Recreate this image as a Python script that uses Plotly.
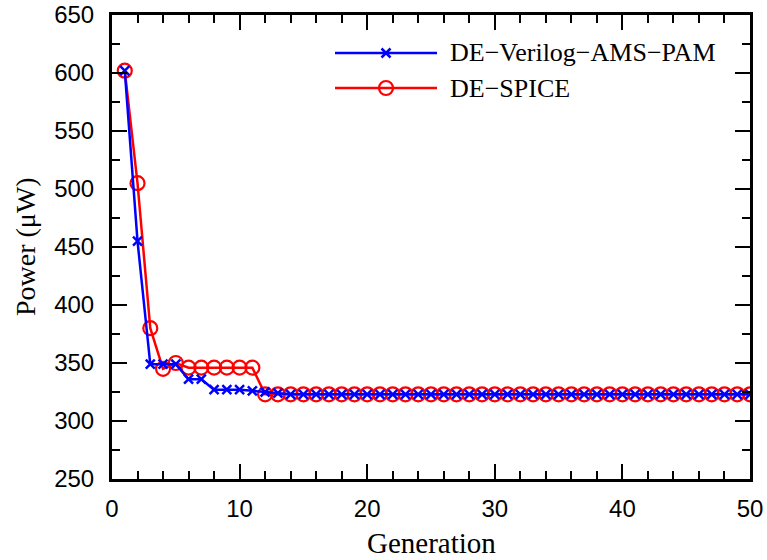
import plotly.graph_objects as go

generations = list(range(1, 51))
verilog_power = [602, 455, 349, 349, 349, 336, 336, 327, 327, 327, 326, 325, 324] + [323] * 37
spice_power = [602, 505, 380, 345, 350, 346, 346, 346, 346, 346, 346] + [323] * 39
series_names = ["DE\u2212Verilog\u2212AMS\u2212PAM", "DE\u2212SPICE"]
x_ticks = [0, 10, 20, 30, 40, 50]
y_ticks = [250, 300, 350, 400, 450, 500, 550, 600, 650]

W, H = 767, 560
L, R, T, B = 112, 750, 15, 479
pw, ph = R - L, B - T

def px(xp):
    return (xp - L) / pw

def py(yp):
    return (B - yp) / ph

BLUE = "#0000ff"
RED = "#ff0000"

fig = go.Figure()
fig.add_trace(go.Scatter(
    x=generations, y=spice_power, mode="lines+markers", name=series_names[1],
    line=dict(color=RED, width=2.5),
    marker=dict(symbol="circle-open", size=14, color=RED, line=dict(width=2.2, color=RED)),
    showlegend=False))
fig.add_trace(go.Scatter(
    x=generations, y=verilog_power, mode="lines+markers", name=series_names[0],
    line=dict(color=BLUE, width=2.5),
    marker=dict(symbol="x-thin", size=9, color=BLUE, line=dict(width=2.5, color=BLUE)),
    showlegend=False))

# custom legend (long line samples)
rows = [(53, BLUE, "x-thin", 9, series_names[0]), (88, RED, "circle-open", 14, series_names[1])]
for yrow, col, sym, sz, name in rows:
    fig.add_shape(type="line", xref="paper", yref="paper",
                  x0=px(335), x1=px(437), y0=py(yrow), y1=py(yrow),
                  line=dict(color=col, width=2.5))
    fig.add_trace(go.Scatter(
        x=[px(386)], y=[py(yrow)], xaxis="x2", yaxis="y2", mode="markers",
        marker=dict(symbol=sym, size=sz, color=col, line=dict(width=2.5 if sym == "x-thin" else 2.2, color=col)),
        showlegend=False, hoverinfo="skip"))
    fig.add_annotation(text=name, xref="paper", yref="paper", x=px(448), y=py(yrow),
                       xanchor="left", yanchor="middle", showarrow=False,
                       font=dict(family="Liberation Serif", size=26, color="black"))

axis_common = dict(
    showline=True, linecolor="black", linewidth=3, mirror="ticks",
    ticks="inside", ticklen=15, tickwidth=2, tickcolor="black",
    showgrid=False, zeroline=False, automargin=False,
    tickfont=dict(family="Liberation Sans", size=24, color="black"),
)

fig.update_layout(
    width=W, height=H,
    margin=dict(l=L, r=W - R, t=T, b=H - B, pad=0, autoexpand=False),
    paper_bgcolor="white", plot_bgcolor="white",
    xaxis=dict(range=[0, 50], tickvals=x_ticks, ticktext=[str(v) for v in x_ticks],
               minor=dict(dtick=2, ticks="inside", ticklen=8, tickwidth=2, tickcolor="black"),
               ticklabelstandoff=6, **axis_common),
    yaxis=dict(range=[250, 650], tickvals=y_ticks, ticktext=[str(v) for v in y_ticks],
               minor=dict(dtick=25, ticks="inside", ticklen=8, tickwidth=2, tickcolor="black"),
               ticklabelstandoff=10, **axis_common),
    xaxis2=dict(overlaying="x", range=[0, 1], visible=False),
    yaxis2=dict(overlaying="y", range=[0, 1], visible=False),
    showlegend=False,
)

fig.add_annotation(text="Generation", xref="paper", yref="paper", x=0.5, y=0,
                   yshift=-64, xanchor="center", yanchor="middle", showarrow=False,
                   font=dict(family="Liberation Serif", size=29, color="black"))
fig.add_annotation(text="Power (\u03bcW)", xref="paper", yref="paper", x=0, y=0.5,
                   xshift=-(L - 25), xanchor="center", yanchor="middle", textangle=-90,
                   showarrow=False,
                   font=dict(family="Liberation Serif", size=28, color="black"))

fig.write_html("out.html", config={"displayModeBar": False},
               post_script="document.body.style.margin='0';document.body.style.overflow='hidden';")
